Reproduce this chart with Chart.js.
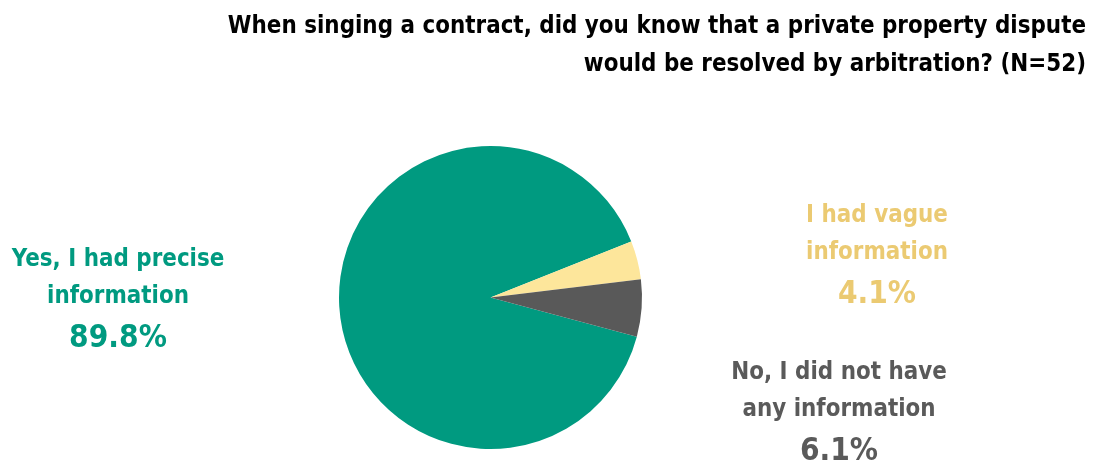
<!DOCTYPE html>
<html>
<head>
<meta charset="utf-8">
<script src="https://cdn.jsdelivr.net/npm/chart.js@4/dist/chart.umd.min.js"></script>
<style>
  html, body { margin: 0; padding: 0; background: #fff; }
  #wrap { width: 1098px; height: 465px; position: relative; }
</style>
</head>
<body>
<div id="wrap"><canvas id="pie"></canvas></div>
<script>
const titleLines = ["When singing a contract, did you know that a private property dispute", "would be resolved by arbitration? (N=52)"];
const answers = [["Yes, I had precise", "information"], ["I had vague", "information"], ["No, I did not have", "any information"]];
const shares = [89.8, 4.1, 6.1];
const sliceColors = ["#009a80", "#fde69b", "#595959"];
const textColors = ["#009a80", "#ebca72", "#5a5a5a"];
// where each answer's text block sits (center x, first line y)
const labelSpots = [[118, 260], [877, 216], [839, 373]];

const FONT = "'DejaVu Sans', sans-serif";
const SQUEEZE = 0.895; // text is drawn slightly narrow

function squeezedText(ctx, str, x, y) {
  ctx.save();
  ctx.translate(x, y);
  ctx.scale(SQUEEZE, 1);
  ctx.fillText(str, 0, 0);
  ctx.restore();
}

const labelsPlugin = {
  id: "pieLabels",
  afterDraw(chart) {
    const ctx = chart.ctx;
    ctx.save();
    ctx.textBaseline = "middle";

    ctx.fillStyle = "#000";
    ctx.textAlign = "right";
    ctx.font = "bold 24px " + FONT;
    titleLines.forEach((t, i) => squeezedText(ctx, t, 1086, 27 + i * 38));

    ctx.textAlign = "center";
    answers.forEach((lines, i) => {
      const [x, y] = labelSpots[i];
      ctx.fillStyle = textColors[i];
      ctx.font = "bold 24px " + FONT;
      lines.forEach((l, j) => squeezedText(ctx, l, x, y + j * 37));
      ctx.font = "bold 31.5px " + FONT;
      squeezedText(ctx, shares[i].toFixed(1) + "%", x, y + 79);
    });
    ctx.restore();
  }
};

new Chart(document.getElementById("pie"), {
  type: "pie",
  data: {
    labels: answers.map(a => a.join(" ")),
    datasets: [{
      data: shares,
      backgroundColor: sliceColors,
      borderWidth: 0
    }]
  },
  options: {
    responsive: true,
    maintainAspectRatio: false,
    animation: false,
    rotation: 105,
    layout: { padding: { left: 339, right: 456, top: 146, bottom: 16 } },
    plugins: {
      legend: { display: false },
      tooltip: { enabled: false }
    }
  },
  plugins: [labelsPlugin]
});
</script>
</body>
</html>
